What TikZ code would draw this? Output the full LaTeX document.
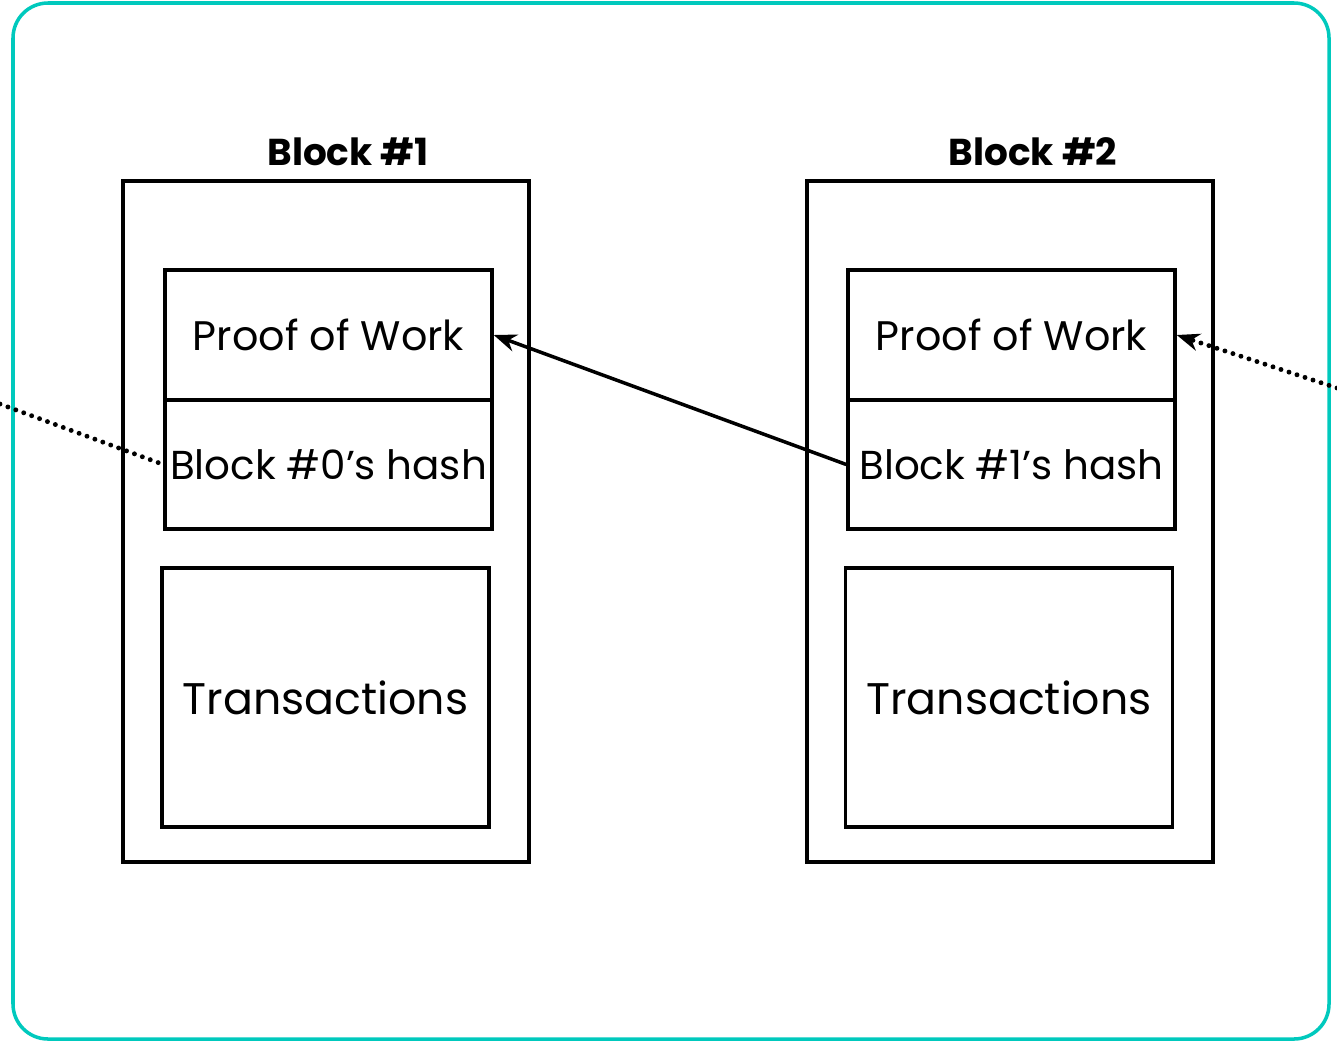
\documentclass[tikz,border=0pt]{standalone}
\usepackage{fontspec}
\newfontfamily\gothic{Poppins}
\usetikzlibrary{arrows.meta}

\begin{document}
\begin{tikzpicture}[x=0.02cm, y=-0.02cm]
  \definecolor{framecol}{RGB}{0,201,189}

  \tikzset{
    blockbox/.style={
      rectangle, draw=black, line width=2pt,
      minimum width=8.12cm, minimum height=13.62cm
    },
    field/.style={
      rectangle, draw=black, line width=2pt, inner xsep=0pt,
      minimum width=6.54cm, minimum height=#1,
      font=\gothic\fontsize{23.5}{28}\selectfont
    },
    field/.default=2.6cm,
    title/.style={
      font=\gothic\bfseries\fontsize{21.3}{25}\selectfont
    },
    link/.style={
      -{Stealth[length=13pt, width=10pt]},
      line width=2pt, color=black
    },
    dotlink/.style={
      line width=2.8pt, line cap=round,
      dash pattern=on 0pt off 4.8pt, color=black
    }
  }

  \useasboundingbox (0,0) rectangle (1337,1041);
  \draw[framecol, line width=2pt, rounded corners=0.7cm] (13,3) rectangle (1329,1039);

  % first block
  \node[blockbox] (block1) at (326,521.5) {};
  \node[title] (title1) at (348,152) {Block \#1};
  \node[field] (pow1) at (328.5,335) {Proof of Work};
  \node[field=2.58cm, font=\gothic\fontsize{23}{28}\selectfont] (hash1) at (328.5,464.5) {Block \#0’s hash};
  \node[field=5.18cm, font=\gothic\fontsize{25.2}{30}\selectfont] (tx1) at (325.5,697.5) {Transactions};

  % second block
  \node[blockbox] (block2) at (1010,521.5) {};
  \node[title] (title2) at (1033,152) {Block \#2};
  \node[field] (pow2) at (1011.5,335) {Proof of Work};
  \node[field=2.58cm, font=\gothic\fontsize{23}{28}\selectfont] (hash2) at (1011.5,464.5) {Block \#1’s hash};
  \node[field=5.18cm, font=\gothic\fontsize{25.2}{30}\selectfont] (tx2) at (1009,697.5) {Transactions};

  \coordinate (prevhash) at (0,404);
  \coordinate (nexthash) at (1337,388);

  \draw[link] (hash2.west) -- (pow1.east);
  \draw[dotlink] (prevhash) -- (hash1.west);
  \draw[dotlink, -{Stealth[length=13pt, width=10pt]}] (nexthash) -- (pow2.east);
\end{tikzpicture}
\end{document}
